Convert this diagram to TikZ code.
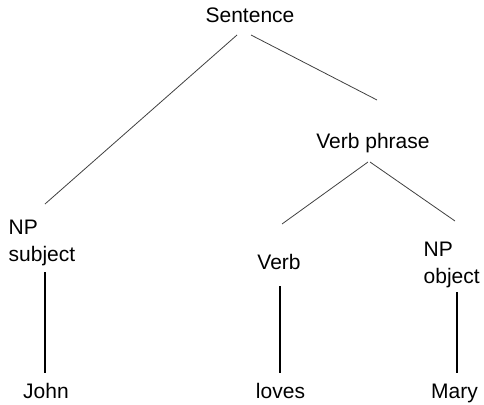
\documentclass[tikz,border=0pt]{standalone}
\usepackage{fontspec}
\setmainfont{Liberation Sans}
\usepackage{tikz}

\begin{document}
\begin{tikzpicture}[x=1pt,y=-1pt,
    word/.style={inner sep=0pt, anchor=base, font=\fontsize{21}{27}\selectfont},
    phrase/.style={inner sep=0pt, anchor=north west, align=left, font=\fontsize{21}{27}\selectfont},
    branch/.style={draw=black!75, line width=0.8pt},
    leaf/.style={draw=black, line width=1.1pt}]
   \useasboundingbox (0,0) rectangle (484,404);

   % upper part of the tree
   \node[word] (sent) at (250,23) {Sentence};
   \node[word] (vp) at (373,148) {Verb phrase};
   \node[phrase] (subj) at (8.5,220) {NP\\subject};
   \node[word] (verb) at (279,269) {Verb};
   \node[phrase] (obj) at (423.5,242) {NP\\object};

   % words
   \node[word] (john) at (46,398) {John};
   \node[word] (loves) at (280.5,398) {loves};
   \node[word] (mary) at (454.5,398) {Mary};

   \draw[branch] ([shift={(-13,12)}]sent.base) -- ([shift={(36.5,-16)}]subj.north west);
   \draw[branch] ([shift={(1,12)}]sent.base) -- ([shift={(4,-48)}]vp.base);
   \draw[branch] ([shift={(-5,14)}]vp.base) -- ([shift={(3,-45)}]verb.base);
   \draw[branch] ([shift={(-3,14)}]vp.base) -- ([shift={(31.5,-21)}]obj.north west);

   %\draw[leaf] (subj) -- (john);
   \draw[leaf] ([shift={(36.5,52)}]subj.north west) -- ([shift={(-1,-25)}]john.base);
   \draw[leaf] ([shift={(1,17)}]verb.base) -- ([shift={(-0.5,-25)}]loves.base);
   \draw[leaf] ([shift={(33.5,50)}]obj.north west) -- ([shift={(2.5,-25)}]mary.base);
\end{tikzpicture}
\end{document}
